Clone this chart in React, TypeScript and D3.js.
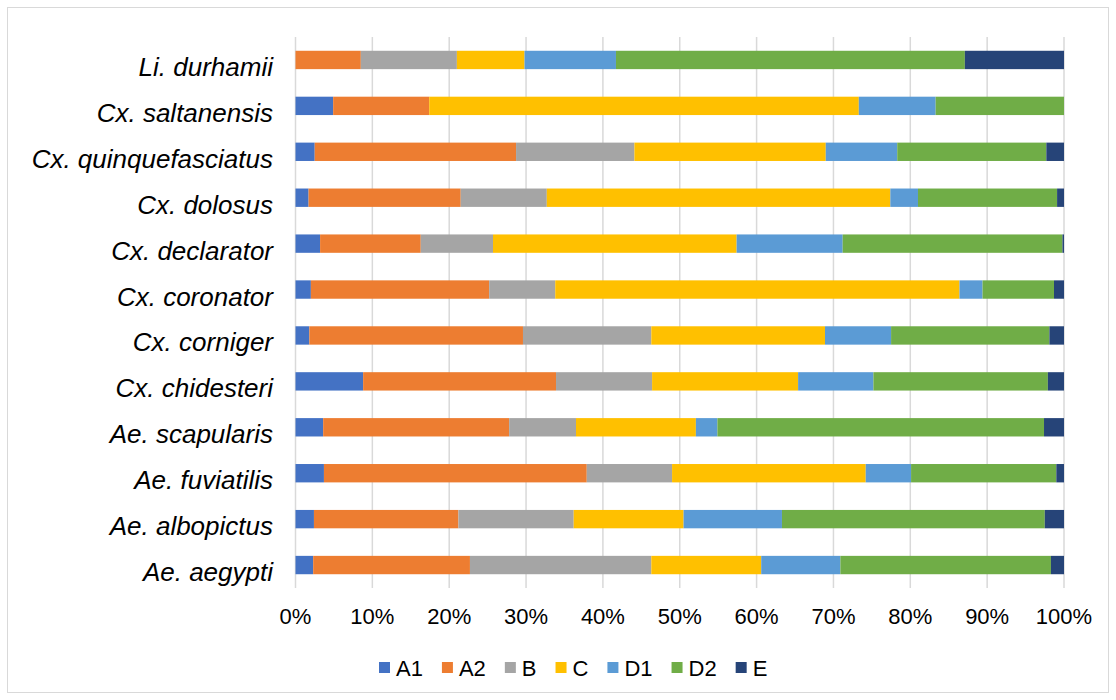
import React, { useEffect, useRef } from "react";
import * as d3 from "d3";

// species, top to bottom
const categories = [
  "Li. durhamii",
  "Cx. saltanensis",
  "Cx. quinquefasciatus",
  "Cx. dolosus",
  "Cx. declarator",
  "Cx. coronator",
  "Cx. corniger",
  "Cx. chidesteri",
  "Ae. scapularis",
  "Ae. fuviatilis",
  "Ae. albopictus",
  "Ae. aegypti",
];

const seriesNames = ["A1", "A2", "B", "C", "D1", "D2", "E"];

const A1 = [0, 4.9, 2.5, 1.7, 3.2, 2.0, 1.8, 8.8, 3.6, 3.7, 2.4, 2.3];
const A2 = [8.5, 12.5, 26.2, 19.8, 13.1, 23.2, 27.8, 25.1, 24.2, 34.2, 18.8, 20.4];
const B = [12.5, 0, 15.4, 11.2, 9.4, 8.6, 16.7, 12.5, 8.7, 11.1, 15.0, 23.6];
const C = [8.8, 55.9, 24.9, 44.7, 31.7, 52.6, 22.6, 19.0, 15.6, 25.2, 14.3, 14.3];
const D1 = [11.9, 10.0, 9.3, 3.6, 13.8, 3.0, 8.6, 9.8, 2.8, 5.9, 12.8, 10.3];
const D2 = [45.4, 16.7, 19.4, 18.1, 28.6, 9.3, 20.6, 22.7, 42.5, 18.9, 34.2, 27.4];
const E = [12.9, 0, 2.3, 0.9, 0.2, 1.3, 1.9, 2.1, 2.6, 1.0, 2.5, 1.7];

const tickValues = [0, 0.1, 0.2, 0.3, 0.4, 0.5, 0.6, 0.7, 0.8, 0.9, 1];

const colors = ["#4472C4", "#ED7D31", "#A5A5A5", "#FFC000", "#5B9BD5", "#70AD47", "#264478"];

const App = () => {
  const ref = useRef<SVGSVGElement>(null);

  useEffect(() => {
    const width = 1116;
    const height = 700;
    const margin = { top: 37, left: 295.5, bottom: 112, right: 52 };
    const font = "'Liberation Sans', Arial, sans-serif";

    const svg = d3.select(ref.current);
    svg.selectAll("*").remove();

    svg
      .append("rect")
      .attr("width", width)
      .attr("height", height)
      .attr("fill", "#fff");

    // chart border
    svg
      .append("rect")
      .attr("x", 7.5)
      .attr("y", 7.5)
      .attr("width", width - 15)
      .attr("height", height - 15)
      .attr("fill", "none")
      .attr("stroke", "#d9d9d9")
      .attr("stroke-width", 1);

    const cols = [A1, A2, B, C, D1, D2, E];
    const rows = categories.map((name, i) => {
      const row: any = { name };
      seriesNames.forEach((s, j) => (row[s] = cols[j][i]));
      return row;
    });

    const stacked = d3
      .stack()
      .keys(seriesNames)
      .offset(d3.stackOffsetExpand)(rows);

    const x = d3
      .scaleLinear()
      .domain([0, 1])
      .range([margin.left, width - margin.right]);

    const y = d3
      .scaleBand()
      .domain(categories)
      .range([margin.top, height - margin.bottom])
      .paddingInner(0.6)
      .paddingOuter(0.3);

    // gridlines
    svg
      .append("g")
      .selectAll("line")
      .data(tickValues)
      .enter()
      .append("line")
      .attr("x1", (d) => x(d))
      .attr("x2", (d) => x(d))
      .attr("y1", margin.top)
      .attr("y2", height - margin.bottom)
      .attr("stroke", "#d9d9d9")
      .attr("stroke-width", 1.5);

    // bars
    svg
      .append("g")
      .selectAll("g")
      .data(stacked)
      .enter()
      .append("g")
      .attr("fill", (_d, i) => colors[i])
      .selectAll("rect")
      .data((d) => d)
      .enter()
      .append("rect")
      // @ts-ignore
      .attr("y", (d) => y(d.data.name))
      .attr("height", y.bandwidth())
      .attr("x", (d) => x(d[0]))
      .attr("width", (d) => Math.max(0, x(d[1]) - x(d[0])));

    // x tick labels
    svg
      .append("g")
      .selectAll("text")
      .data(tickValues)
      .enter()
      .append("text")
      .text((d) => d3.format(".0%")(d))
      .attr("x", (d) => x(d))
      .attr("y", 624)
      .attr("text-anchor", "middle")
      .attr("font-family", font)
      .attr("font-size", "22px")
      .attr("fill", "#000");

    // category labels
    svg
      .append("g")
      .selectAll("text")
      .data(categories)
      .enter()
      .append("text")
      .text((d) => d)
      .attr("x", 273)
      // @ts-ignore
      .attr("y", (d) => y(d) + y.bandwidth() / 2 + 16)
      .attr("text-anchor", "end")
      .attr("font-family", font)
      .attr("font-style", "italic")
      .attr("font-size", "26px")
      .attr("fill", "#000");

    // legend
    const legend = svg.append("g");
    let lx = 379;
    seriesNames.forEach((s, i) => {
      legend
        .append("rect")
        .attr("x", lx)
        .attr("y", 662)
        .attr("width", 11)
        .attr("height", 11)
        .attr("fill", colors[i]);
      const t = legend
        .append("text")
        .text(s)
        .attr("x", lx + 17)
        .attr("y", 676)
        .attr("font-family", font)
        .attr("font-size", "22px")
        .attr("fill", "#000");
      const w = (t.node() as SVGTextElement).getComputedTextLength();
      lx += 17 + w + 19;
    });
  }, []);

  return (
    <svg
      ref={ref}
      width={1116}
      height={700}
      style={{ position: "absolute", left: 0, top: 0 }}
    />
  );
};

export default App;
